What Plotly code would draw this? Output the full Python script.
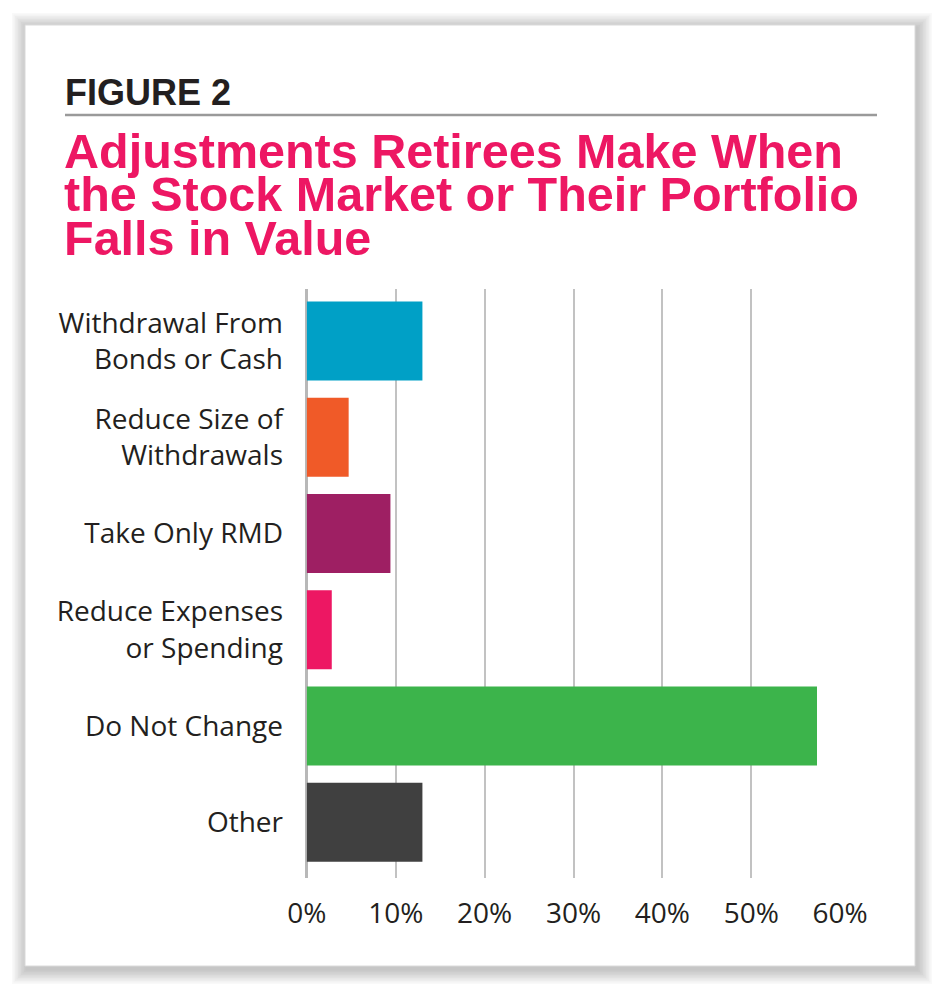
import plotly.graph_objects as go

# survey answers (share of retirees, %)
categories = [
    "Withdrawal From<br>Bonds or Cash",
    "Reduce Size of<br>Withdrawals",
    "Take Only RMD",
    "Reduce Expenses<br>or Spending",
    "Do Not Change",
    "Other",
]
shares = [13.0, 4.7, 9.4, 2.8, 57.4, 13.0]
tick_values = [0, 10, 20, 30, 40, 50, 60]
tick_labels = ["0%", "10%", "20%", "30%", "40%", "50%", "60%"]

bar_colors = ["#00A0C6", "#F05A28", "#9E1F63", "#ED1763", "#3CB44B", "#404040"]

# the page body has an 8px margin, so the figure is drawn 16px smaller
OFF = 8
W, H = 940 - 2 * OFF, 996 - 2 * OFF
L, R, T, B = 306 - OFF, 940 - OFF - 841, 289 - OFF, 996 - OFF - 878


def px_x(x):
    # screen x (reference pixels) -> paper
    return (x - OFF - L) / (W - L - R)


def px_y(y):
    return (H - B - (y - OFF)) / (H - T - B)


fig = go.Figure()
fig.add_trace(go.Bar(
    x=shares, y=categories, orientation='h',
    marker=dict(color=bar_colors, line=dict(width=0)),
    width=0.82, hoverinfo='x+y',
))

# card with a soft shadow
shapes = []
for i in range(10, 0, -1):
    shapes.append(dict(
        type='rect', xref='paper', yref='paper', layer='below',
        x0=px_x(25 - i * 1.5 + 2), x1=px_x(915 + i * 1.5 + 2),
        y0=px_y(966 + i * 1.5 + 3), y1=px_y(25 - i * 1.5 + 3),
        fillcolor='rgba(0,0,0,0.025)', line=dict(width=0),
    ))
shapes.append(dict(
    type='rect', xref='paper', yref='paper', layer='below',
    x0=px_x(25), x1=px_x(915), y0=px_y(966), y1=px_y(25),
    fillcolor='white', line=dict(color='#DADADA', width=1),
))
# rule under the figure label
shapes.append(dict(
    type='line', xref='paper', yref='paper', layer='below',
    x0=px_x(65), x1=px_x(877), y0=px_y(115), y1=px_y(115),
    line=dict(color='#9A9A9A', width=2.5),
))

title_lines = [
    "Adjustments Retirees Make When",
    "the Stock Market or Their Portfolio",
    "Falls in Value",
]
title_y = [151, 194, 237.5]

annotations = [dict(
    text="FIGURE 2", xref='paper', yref='paper',
    x=px_x(63), y=px_y(92.5), xanchor='left', yanchor='middle', showarrow=False,
    font=dict(family='Liberation Sans', size=36, color='#231F20', weight='bold'),
)]
for line, yy in zip(title_lines, title_y):
    annotations.append(dict(
        text=line, xref='paper', yref='paper',
        x=px_x(62), y=px_y(yy), xanchor='left', yanchor='middle', showarrow=False,
        font=dict(family='Liberation Sans', size=48.5, color='#ED1763', weight='bold'),
    ))

fig.update_layout(
    width=W, height=H,
    margin=dict(l=L, r=R, t=T, b=B),
    paper_bgcolor='white', plot_bgcolor='rgba(0,0,0,0)',
    showlegend=False,
    shapes=shapes, annotations=annotations,
    font=dict(family='Open Sans', color='#231F20'),
    xaxis=dict(
        range=[-0.1, 60.1], tickmode='array', tickvals=tick_values, ticktext=tick_labels,
        showgrid=True, gridcolor='#C2C2C2', gridwidth=2,
        zeroline=True, zerolinecolor='#B8B8B8', zerolinewidth=2.5,
        tickfont=dict(size=28, color='#231F20'), ticklabelstandoff=16,
        showline=False, fixedrange=True,
    ),
    yaxis=dict(
        type='category', range=[5.58, -0.54],
        showgrid=False, zeroline=False, showline=False,
        tickfont=dict(size=28, color='#231F20'), ticklabelstandoff=22,
        fixedrange=True,
    ),
)

fig.write_html("out.html")
